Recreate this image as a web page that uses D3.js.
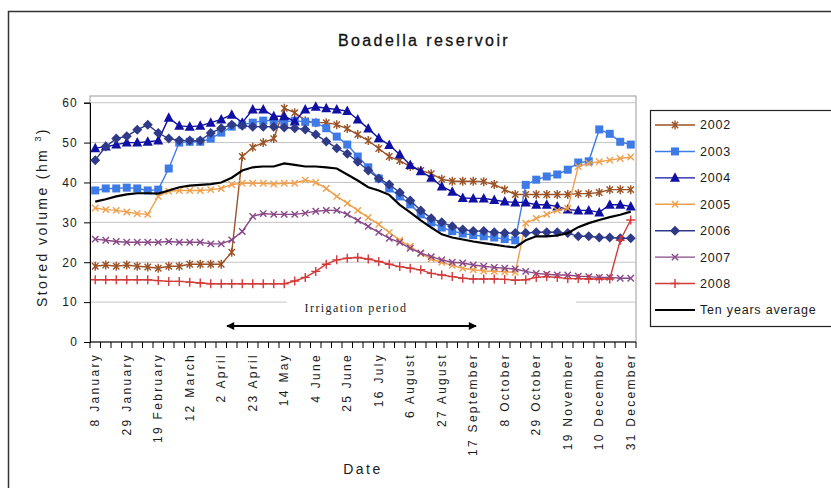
<!DOCTYPE html>
<html>
<head>
<meta charset="utf-8">
<script src="https://cdn.jsdelivr.net/npm/d3@7/dist/d3.min.js"></script>
<style>
  body { margin: 0; background: white; }
  svg { display: block; font-family: "Liberation Sans", Arial, sans-serif; }
</style>
</head>
<body>
<script>

// x categories - one reading a week
var weeks = ["8 January", "15 January", "22 January", "29 January", "5 February", "12 February",
  "19 February", "26 February", "5 March", "12 March", "19 March", "26 March", "2 April", "9 April",
  "16 April", "23 April", "30 April", "7 May", "14 May", "21 May", "28 May", "4 June", "11 June",
  "18 June", "25 June", "2 July", "9 July", "16 July", "23 July", "30 July", "6 August", "13 August",
  "20 August", "27 August", "3 September", "10 September", "17 September", "24 September",
  "1 October", "8 October", "15 October", "22 October", "29 October", "5 November", "12 November",
  "19 November", "26 November", "3 December", "10 December", "17 December", "24 December", "31 December"];

// only every third week gets a label
var weekLabels = ["8 January", "29 January", "19 February", "12 March", "2 April", "23 April", "14 May",
  "4 June", "25 June", "16 July", "6 August", "27 August", "17 September", "8 October", "29 October",
  "19 November", "10 December", "31 December"];

var yTicks = [0, 10, 20, 30, 40, 50, 60];

var seriesNames = ["2002", "2003", "2004", "2005", "2006", "2007", "2008", "Ten years average"];

// stored volume (hm3)
var v2002 = [19, 19.3, 19, 19.3, 19, 18.8, 18.5, 19, 19, 19.5, 19.5, 19.5, 19.5, 22.5, 46.5, 48.8,
  50, 51, 58.6, 57.5, 55.5, 55, 55, 54.5, 53.5, 52, 50.5, 48.5, 46.5, 45.5, 44, 43, 42.2, 40.8,
  40.3, 40.3, 40.3, 40.2, 39.5, 38.2, 37, 37, 37, 37, 37, 37, 37.2, 37.2, 37.5, 38.2, 38.2, 38.2];
var v2003 = [38, 38.5, 38.5, 38.7, 38.5, 38, 38.2, 43.5, 50, 50.2, 50.2, 51, 52.5, 54, 54.5, 55,
  55.5, 55.5, 55.2, 55.5, 55.2, 55, 53.6, 51.5, 49.5, 46.5, 43.8, 41, 38.5, 36.5, 34.5, 32, 30,
  28.7, 27.8, 27.2, 26.8, 26.5, 26.2, 25.8, 25.5, 39.4, 40.7, 41.5, 42, 43.2, 45, 45.3, 53.3, 52.2,
  50.2, 49.5];
var v2004 = [48.6, 49, 49.5, 50, 50, 50.2, 50.5, 56.2, 54.2, 54, 54.2, 55, 55.8, 57, 55, 58.3,
  58.3, 56.6, 56.6, 55.3, 58.3, 59, 58.6, 58.3, 57.9, 55.8, 53.5, 51.1, 49.4, 47, 44.4, 42.8, 41.2,
  39, 37.7, 36.1, 36, 36, 35.6, 35.2, 35, 35, 34.4, 34.4, 34, 33.2, 33, 33, 32.5, 34.4, 34.4, 34];
var v2005 = [33.6, 33.2, 33, 32.6, 32.2, 32, 36.5, 37.8, 38, 38, 38, 38.2, 38.5, 39.5, 39.8, 39.8,
  39.8, 39.6, 39.8, 39.8, 40.6, 40, 38.5, 36.5, 34.8, 33, 31.2, 29.5, 27.5, 25.5, 24, 22.2, 20.8,
  20, 19.2, 18.5, 18.1, 17.8, 17.7, 17.6, 17.5, 29.8, 31, 32, 33, 33.5, 44, 44.8, 45.2, 45.6, 46, 46.4];
var v2006 = [45.6, 49, 51, 51.6, 53.2, 54.5, 52.4, 51, 50.5, 50.5, 50.5, 52.4, 53.6, 54.5, 54.2,
  54, 54, 54, 53.8, 53.6, 53.3, 52, 50.3, 48.6, 47.2, 45.2, 43, 41, 39.5, 37.5, 35.5, 33, 31, 30,
  29, 28.2, 27.8, 27.8, 27.5, 27.3, 27.3, 27.3, 27.5, 27.5, 27.5, 27.3, 26.5, 26.5, 26.2, 26.2, 26, 26];
var v2007 = [25.8, 25.5, 25.2, 25, 25, 25, 25, 25.2, 25, 25, 25, 24.6, 24.6, 25.6, 27.7, 31.5,
  32.2, 32, 32, 32, 32.3, 32.8, 33, 33, 32, 30.5, 29, 27.5, 26, 25, 23.5, 22.3, 21.4, 20.6, 20,
  19.8, 19.3, 19, 18.7, 18.5, 18.3, 17.7, 17.2, 17, 16.8, 16.8, 16.5, 16.4, 16.2, 16.2, 16, 16];
var v2008 = [15.6, 15.6, 15.6, 15.6, 15.6, 15.6, 15.4, 15.2, 15.2, 15, 14.8, 14.6, 14.6, 14.6,
  14.6, 14.6, 14.6, 14.6, 14.6, 15.3, 16.2, 17.7, 19.5, 20.6, 21, 21.2, 20.8, 20.2, 19.5, 18.9,
  18.5, 18.1, 17.2, 16.8, 16.4, 16, 15.8, 15.8, 15.8, 15.7, 15.5, 15.6, 16.2, 16.4, 16.2, 15.9,
  15.9, 15.8, 15.8, 15.8, 25.5, 30.6];
var vAverage = [35.2, 35.8, 36.5, 37, 37.3, 37.3, 37.2, 38, 38.8, 39.2, 39.4, 39.6, 40, 41.2, 43,
  43.8, 44, 44, 44.8, 44.4, 44, 44, 43.8, 43.5, 42, 40.5, 38.8, 38, 36.9, 34.4, 32.5, 30.5, 28.7,
  27, 26.2, 25.7, 25.2, 24.8, 24.4, 24, 23.7, 25.5, 26.5, 26.5, 26.7, 27.3, 28.8, 29.8, 30.6, 31.3,
  31.9, 32.7];

var allValues = [v2002, v2003, v2004, v2005, v2006, v2007, v2008, vAverage];

// look of each series (same order as seriesNames)
var colors = ["#9a5226", "#3f7be6", "#1010a4", "#f0a04c", "#2f3a88", "#884888", "#d43a3a", "#000000"];
var markers = ["star", "square", "triangle", "x", "diamond", "x", "plus", "none"];

var w = 831;
var h = 488;

// plot area edges
var plotLeft = 90, plotRight = 636, plotTop = 96, plotBottom = 342;

var svg = d3.select("body").append("svg")
    .attr("width", w)
    .attr("height", h);

// outer chart frame (runs off the right and bottom of the picture)
svg.append("rect")
    .attr("x", 8.5).attr("y", 11.5)
    .attr("width", 860).attr("height", 500)
    .attr("fill", "white")
    .attr("stroke", "#333").attr("stroke-width", 1.5);

var x = d3.scaleBand().domain(weeks).range([plotLeft, plotRight]);
var y = d3.scaleLinear().domain([0, 60]).range([plotBottom, 102.7]);
var xc = function(d) { return x(d) + x.bandwidth() / 2; };

// plot border
svg.append("rect")
    .attr("x", plotLeft).attr("y", plotTop)
    .attr("width", plotRight - plotLeft).attr("height", plotBottom - plotTop)
    .attr("fill", "white").attr("stroke", "#9a9a9a");

// gridlines
svg.append("g").selectAll("line")
    .data(yTicks.slice(1))
    .join("line")
    .attr("x1", plotLeft).attr("x2", plotRight)
    .attr("y1", function(d) { return y(d); })
    .attr("y2", function(d) { return y(d); })
    .attr("stroke", "#c4c4c4");

// white text box of the irrigation label hides part of the 10 gridline
svg.append("rect")
    .attr("x", 287).attr("y", 296)
    .attr("width", 289).attr("height", 20)
    .attr("fill", "white");

svg.append("text")
    .attr("x", 356).attr("y", 312)
    .attr("text-anchor", "middle")
    .attr("font-family", "'Liberation Serif', 'Times New Roman', serif")
    .attr("font-size", 12)
    .attr("letter-spacing", 1.4)
    .attr("fill", "#222")
    .text("Irrigation period");

// double headed arrow
var defs = svg.append("defs");
defs.append("marker")
    .attr("id", "head")
    .attr("viewBox", "0 0 10 10")
    .attr("refX", 9).attr("refY", 5)
    .attr("markerWidth", 10).attr("markerHeight", 8)
    .attr("markerUnits", "userSpaceOnUse")
    .attr("orient", "auto-start-reverse")
    .append("path").attr("d", "M0,0L10,5L0,10Z").attr("fill", "black");

svg.append("line")
    .attr("x1", 227).attr("x2", 476)
    .attr("y1", 326).attr("y2", 326)
    .attr("stroke", "black").attr("stroke-width", 1.8)
    .attr("marker-start", "url(#head)")
    .attr("marker-end", "url(#head)");

// y axis
var yAxis = svg.append("g")
    .attr("transform", "translate(" + plotLeft + ",0)")
    .call(d3.axisLeft(y).tickValues(yTicks).tickSize(6).tickPadding(6));
yAxis.select(".domain").attr("stroke", "black");
yAxis.selectAll(".tick line").attr("stroke", "black");
yAxis.selectAll("text")
    .attr("font-size", 12)
    .attr("letter-spacing", 1.2)
    .attr("fill", "#1a1a1a")
    .attr("font-family", "'Liberation Sans', Arial, sans-serif");

// x axis line and tick marks between the weeks
svg.append("line")
    .attr("x1", plotLeft).attr("x2", plotRight)
    .attr("y1", plotBottom).attr("y2", plotBottom)
    .attr("stroke", "black");

svg.append("g").selectAll("line")
    .data(weeks.concat(["end"]))
    .join("line")
    .attr("x1", function(d) { return d == "end" ? plotRight : x(d); })
    .attr("x2", function(d) { return d == "end" ? plotRight : x(d); })
    .attr("y1", plotBottom).attr("y2", plotBottom + 6)
    .attr("stroke", "black");

// rotated week labels
svg.append("g").selectAll("text")
    .data(weekLabels)
    .join("text")
    .attr("transform", function(d) { return "translate(" + xc(d) + ",353) rotate(-90)"; })
    .attr("text-anchor", "end")
    .attr("dy", "0.35em")
    .attr("font-size", 12)
    .attr("letter-spacing", 2.3)
    .attr("fill", "#1a1a1a")
    .text(function(d) { return d; });

// axis titles
svg.append("text")
    .attr("x", 363).attr("y", 474)
    .attr("text-anchor", "middle")
    .attr("font-size", 14)
    .attr("letter-spacing", 2.5)
    .attr("fill", "#1a1a1a")
    .text("Date");

var yTitle = svg.append("text")
    .attr("transform", "translate(47,217) rotate(-90)")
    .attr("text-anchor", "middle")
    .attr("font-size", 14)
    .attr("letter-spacing", 2.4)
    .attr("fill", "#1a1a1a");
yTitle.append("tspan").text("Stored volume (hm ");
yTitle.append("tspan").attr("font-size", 9).attr("dy", -6).text("3");
yTitle.append("tspan").attr("dy", 6).text(")");

// chart title
svg.append("text")
    .attr("x", 424).attr("y", 46)
    .attr("text-anchor", "middle")
    .attr("font-size", 16)
    .attr("letter-spacing", 2.4)
    .attr("fill", "#111")
    .attr("stroke", "#111").attr("stroke-width", 0.3)
    .text("Boadella reservoir");

// draw a marker of given type centred at 0,0
var drawMarker = function(g, type, color) {
  if (type == "square") {
    g.append("rect").attr("x", -4).attr("y", -4).attr("width", 8).attr("height", 8).attr("fill", color);
  } else if (type == "triangle") {
    g.append("path").attr("d", "M0,-5.5L5,4L-5,4Z").attr("fill", color);
  } else if (type == "diamond") {
    g.append("path").attr("d", "M0,-5L5,0L0,5L-5,0Z").attr("fill", color);
  } else if (type == "x") {
    g.append("path").attr("d", "M-3.2,-3.2L3.2,3.2M-3.2,3.2L3.2,-3.2").attr("stroke", color).attr("stroke-width", 1.4);
  } else if (type == "star") {
    g.append("path").attr("d", "M-3.2,-3.2L3.2,3.2M-3.2,3.2L3.2,-3.2M0,-4.5L0,4.5").attr("stroke", color).attr("stroke-width", 1.4);
  } else if (type == "plus") {
    g.append("path").attr("d", "M-4.5,0L4.5,0M0,-4.5L0,4.5").attr("stroke", color).attr("stroke-width", 1.4);
  }
};

var line = d3.line()
    .x(function(d, i) { return xc(weeks[i]); })
    .y(function(d) { return y(d); });

// series lines with markers, in legend order
seriesNames.forEach(function(name, k) {
  var g = svg.append("g").attr("class", "series");
  g.append("path")
      .datum(allValues[k])
      .attr("d", line)
      .attr("fill", "none")
      .attr("stroke", colors[k])
      .attr("stroke-width", k == 7 ? 2.2 : 1.4);
  g.selectAll("g.mk")
      .data(allValues[k])
      .join("g")
      .attr("class", "mk")
      .attr("transform", function(d, i) { return "translate(" + xc(weeks[i]) + "," + y(d) + ")"; })
      .each(function() { drawMarker(d3.select(this), markers[k], colors[k]); });
});

// legend
var legend = svg.append("g");
legend.append("rect")
    .attr("x", 650.5).attr("y", 110.5)
    .attr("width", 200).attr("height", 216)
    .attr("fill", "white")
    .attr("stroke", "#222").attr("stroke-width", 1.2);

var ly = d3.scalePoint().domain(seriesNames).range([125, 310]);

seriesNames.forEach(function(name, k) {
  var row = legend.append("g").attr("transform", "translate(0," + ly(name) + ")");
  row.append("line")
      .attr("x1", 655).attr("x2", 695)
      .attr("stroke", colors[k]).attr("stroke-width", k == 7 ? 2 : 1.4);
  var m = row.append("g").attr("transform", "translate(675,0)");
  drawMarker(m, markers[k], colors[k]);
  row.append("text")
      .attr("x", 700).attr("dy", "0.35em")
      .attr("font-size", 12.5)
      .attr("letter-spacing", 0.8)
      .attr("fill", "#1a1a1a")
      .text(name);
});

</script>
</body>
</html>
